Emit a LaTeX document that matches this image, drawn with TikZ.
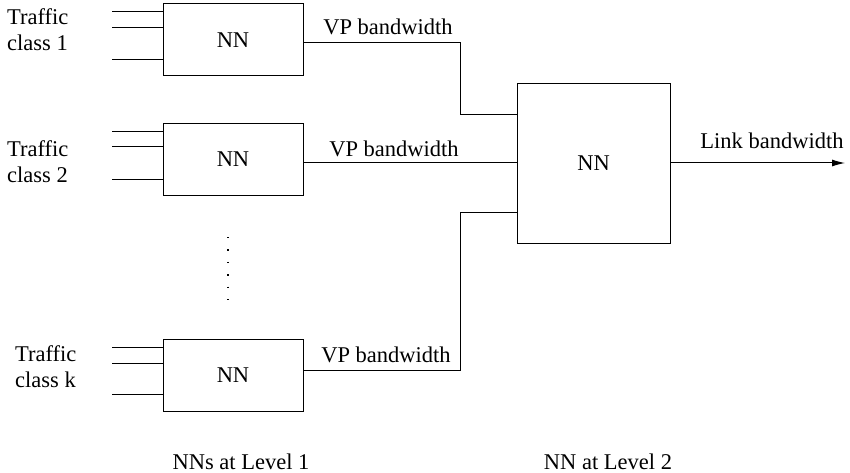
\documentclass[tikz,border=0pt]{standalone}
\usepackage{fontspec}
\setmainfont{Liberation Serif}
\usetikzlibrary{arrows.meta}
\begin{document}
\begin{tikzpicture}[x=1pt,y=-1pt,
  every node/.style={font=\fontsize{22.5}{26}\selectfont, inner sep=0pt},
  nnbox/.style={draw, line width=1pt, minimum width=140pt, minimum height=72pt},
  wire/.style={line width=1pt},
  lbl/.style={align=left, anchor=west}]
\useasboundingbox (0,0) rectangle (850,473);
% level 1 boxes
\node[nnbox] (b1) at (233,40) {NN};
\node[nnbox, minimum height=71pt] (b2) at (233,159.5) {NN};
\node[nnbox] (bk) at (233,375) {NN};
% level 2 box
\node[nnbox, minimum width=153pt, minimum height=159pt] (big) at (593.5,163.5) {NN};
% inputs
\foreach \y in {12,28,60} \draw[wire] (112,\y) -- (112,\y -| b1.west);
\foreach \y in {132,147,179} \draw[wire] (112,\y) -- (112,\y -| b2.west);
\foreach \y in {347,363,394} \draw[wire] (112,\y) -- (112,\y -| bk.west);
% traffic labels
\node[lbl] (t1) at (7,30) {Traffic\\class 1};
\node[lbl] (t2) at (7,162) {Traffic\\class 2};
\node[lbl] (tk) at (15,367) {Traffic\\class k};
% connections
\coordinate (e1) at (460,43);
\coordinate (ek) at (460,370);
\draw[wire] (b1.east |- e1) -- (e1) -- (460,115) -- (460,115 -| big.west);
\draw[wire] (b2.east |- 0,163) -- (big.west |- 0,163);
\draw[wire] (bk.east |- ek) -- (ek) -- (460,212) -- (460,212 -| big.west);
\coordinate (out) at (845,163);
\draw[wire, -{Latex[length=13pt,width=7pt]}] (big.east |- out) -- (out);
% labels
\node (vp1) at (388,27) {VP bandwidth};
\node (vp2) at (394,149) {VP bandwidth};
\node (vpk) at (386,355) {VP bandwidth};
\node (lb) at (772,141) {Link bandwidth};
% dots
\coordinate (d1) at (228,237);
\coordinate (d2) at (228,300);
\draw[line width=1.3pt, dash pattern=on 1.3pt off 11.1pt] (d1) -- (d2);
% bottom labels
\node (l1) at (241,462) {NNs at Level 1};
\node (l2) at (608,462) {NN at Level 2};
\end{tikzpicture}
\end{document}
